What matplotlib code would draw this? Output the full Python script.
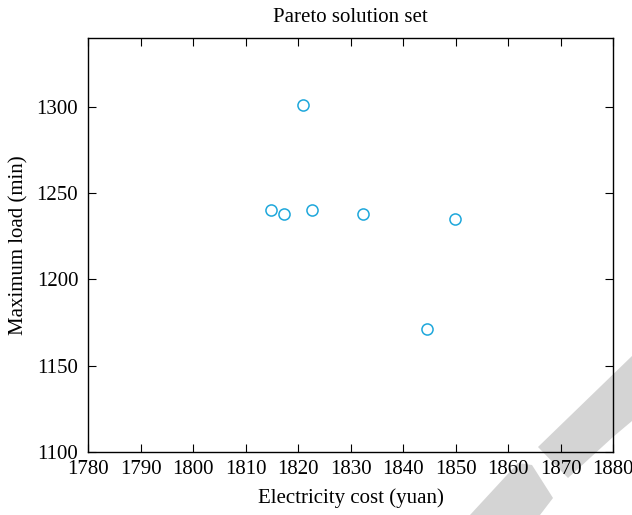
import matplotlib
matplotlib.use("Agg")
import matplotlib.pyplot as plt
from matplotlib.patches import Polygon

# Pareto solutions: electricity cost (yuan) vs maximum load (min)
cost = [1821.0, 1814.8, 1817.3, 1822.6, 1832.4, 1849.8, 1844.6]
load = [1301.0, 1240.3, 1238.2, 1240.3, 1238.2, 1235.2, 1171.0]

xticks = list(range(1780, 1881, 10))
yticks = list(range(1100, 1301, 50))

plt.rcParams['font.family'] = ['Liberation Serif', 'DejaVu Serif']

fig = plt.figure(figsize=(6.32, 5.15), dpi=100)
ax = fig.add_axes([0.1392, 0.1229, 0.8312, 0.8027])
ax.patch.set_facecolor('none')

# grey watermark band in the lower right corner (figure pixels)
W, H = 632.0, 515.0
band_a = [(538, 447), (632, 356), (632, 421), (613, 437), (568, 478)]
band_b = [(470, 515), (518, 463), (532, 465), (553, 498), (540, 515)]
for pts in (band_a, band_b):
    poly = Polygon([(x / W, 1 - y / H) for x, y in pts], closed=True,
                   transform=fig.transFigure, facecolor='#d4d4d4',
                   edgecolor='none', zorder=-1)
    fig.patches.append(poly)

ax.plot(cost, load, 'o', linestyle='none', markersize=8,
        markerfacecolor='none', markeredgecolor='#1ea7db', markeredgewidth=1.1)

ax.set_xlim(1780, 1880)
ax.set_ylim(1100, 1340)
ax.set_xticks(xticks)
ax.set_yticks(yticks)
ax.tick_params(direction='in', length=5.5, width=0.8, top=True, right=True,
               labelsize=15, colors='black')
ax.tick_params(axis='x', pad=6)
ax.tick_params(axis='y', pad=7)
for s in ax.spines.values():
    s.set_linewidth(1.0)

ax.set_title('Pareto solution set', fontsize=15, pad=12)
ax.set_xlabel('Electricity cost (yuan)', fontsize=15, labelpad=7)
ax.set_ylabel('Maximum load (min)', fontsize=15, labelpad=6)

fig.savefig('out.png', dpi=100)
